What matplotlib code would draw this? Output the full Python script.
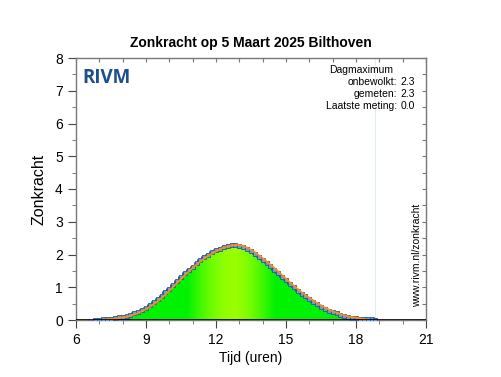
import numpy as np
import matplotlib
matplotlib.use("Agg")
import matplotlib.pyplot as plt
from matplotlib.colors import LinearSegmentedColormap

plt.rcParams['font.family'] = ['Liberation Sans', 'DejaVu Sans']

# gemeten zonkracht, elke 10 minuten vanaf 6:50
meas_start = 6 + 50 / 60
measured = [0.00, 0.01, 0.02, 0.03, 0.04, 0.06, 0.08, 0.10, 0.13, 0.16,
            0.20, 0.25, 0.31, 0.38, 0.45, 0.54, 0.63, 0.73, 0.84, 0.96,
            1.07, 1.18, 1.30, 1.42, 1.53, 1.63, 1.73, 1.83, 1.92, 2.00,
            2.07, 2.13, 2.18, 2.23, 2.26, 2.28, 2.30,
            2.27, 2.22, 2.17, 2.10, 2.02, 1.93, 1.84, 1.74, 1.64, 1.54,
            1.43, 1.32, 1.21, 1.10, 1.00, 0.90, 0.80, 0.72, 0.63, 0.56,
            0.48, 0.41, 0.35, 0.29, 0.24, 0.20, 0.16, 0.12, 0.09, 0.07,
            0.05, 0.04, 0.03, 0.02, 0.02, 0.01]

# onbewolkt (model), elke 10 minuten vanaf 7:10
model_start = 7 + 10 / 60
clear_sky = [0.01, 0.02, 0.03, 0.04, 0.06, 0.08, 0.10, 0.13, 0.17, 0.21,
             0.27, 0.33, 0.40, 0.48, 0.57, 0.67, 0.78, 0.89, 1.01, 1.13,
             1.25, 1.37, 1.48, 1.59, 1.69, 1.79, 1.88, 1.96, 2.03, 2.10,
             2.16, 2.21, 2.25, 2.28, 2.29,
             2.29, 2.26, 2.21, 2.14, 2.07, 1.98, 1.89, 1.79, 1.69, 1.59,
             1.48, 1.37, 1.26, 1.15, 1.05, 0.95, 0.85, 0.76, 0.68, 0.60,
             0.52, 0.45, 0.38, 0.32, 0.27, 0.22, 0.18, 0.14, 0.11, 0.09,
             0.07, 0.05, 0.03, 0.01]

day_max_clear = 2.3
day_max_meas = 2.3
last_value = 0.0

meas_t = meas_start + np.arange(len(measured)) / 6
model_t = model_start + np.arange(len(clear_sky)) / 6

fig = plt.figure(figsize=(5.02, 3.77), dpi=100)
ax = fig.add_axes([76 / 502, 57 / 377, 350 / 502, 262 / 377])

# groene kleurverloop-vulling onder de meting
poly = ax.fill_between(meas_t, measured, 0, step='mid', color='none', lw=0)
cmap = LinearSegmentedColormap.from_list(
    'zon', [(0, (0.0, 0.95, 0.0)), (1.5 / 2.3, (0.0, 0.95, 0.0)),
            (1.0, (0.6, 1.0, 0.0))])
xs = np.linspace(meas_t[0], meas_t[-1], 600)
vals = np.interp(xs, meas_t, measured)
img = ax.imshow(vals[np.newaxis, :], cmap=cmap, vmin=0, vmax=2.3,
                extent=[xs[0], xs[-1], 0, 8], aspect='auto', zorder=1,
                interpolation='bilinear')
img.set_clip_path(poly.get_paths()[0], transform=ax.transData)

ax.axvline(meas_t[-1], color='#e0f2e0', lw=0.8, zorder=0)

ax.plot(meas_t, measured, drawstyle='steps-mid', color='#1b3f8a', lw=1.2,
        marker='s', ms=3.5, mfc='#6a9fd4', mec='#2a5aa0', mew=0.6, zorder=3)
ax.plot(model_t, clear_sky, color='#ff8c1a', lw=1.3, zorder=4)
ax.axhline(0, color='black', lw=1.2, zorder=5)

ax.set_xlim(6, 21)
ax.set_ylim(0, 8)
ax.set_xticks(np.arange(6, 22, 3))
ax.set_xticks(np.arange(6, 22, 1), minor=True)
ax.set_yticks(np.arange(0, 9, 1))
ax.set_yticks(np.arange(0, 8.5, 0.5), minor=True)
ax.tick_params(which='major', direction='out', length=6, labelsize=10,
               color='#444444')
ax.tick_params(which='minor', direction='out', length=3, color='#666666')
for s in ax.spines.values():
    s.set_color('#777777')
    s.set_linewidth(1.0)

top = ax.secondary_xaxis('top')
top.set_xticks(np.arange(6, 22, 1))
top.tick_params(direction='in', length=3, labeltop=False, color='#777777')
top.spines['top'].set_visible(False)
right = ax.secondary_yaxis('right')
right.set_yticks(np.arange(0, 8.5, 0.5))
right.tick_params(direction='in', length=3, labelright=False, color='#777777')
right.spines['right'].set_visible(False)

ax.set_xlabel('Tijd (uren)', fontsize=10, labelpad=3)
ax.set_ylabel('Zonkracht', fontsize=11.5, labelpad=6)
ax.set_title('Zonkracht op 5 Maart 2025 Bilthoven', fontsize=10,
             fontweight='bold', pad=8)

ax.text(0.018, 0.96, 'RIVM', transform=ax.transAxes, fontsize=13.5,
        fontweight='bold', color='#1d4f8c', va='top', ha='left',
        family=['Open Sans', 'DejaVu Sans'])

ax.text(0.722, 0.972, 'Dagmaximum', transform=ax.transAxes, fontsize=7.5,
        va='top', ha='left')
rows = [('onbewolkt:', day_max_clear), ('gemeten:', day_max_meas),
        ('Laatste meting:', last_value)]
for i, (lab, v) in enumerate(rows):
    y = 0.927 - i * 0.046
    ax.text(0.918, y, lab, transform=ax.transAxes, fontsize=7.5,
            va='top', ha='right')
    ax.text(0.928, y, '%.1f' % v, transform=ax.transAxes, fontsize=7.5,
            va='top', ha='left')

ax.text(0.988, 0.05, 'www.rivm.nl/zonkracht', transform=ax.transAxes,
        fontsize=7.5, rotation=90, va='bottom', ha='right')

fig.savefig('out.png', dpi=100)
